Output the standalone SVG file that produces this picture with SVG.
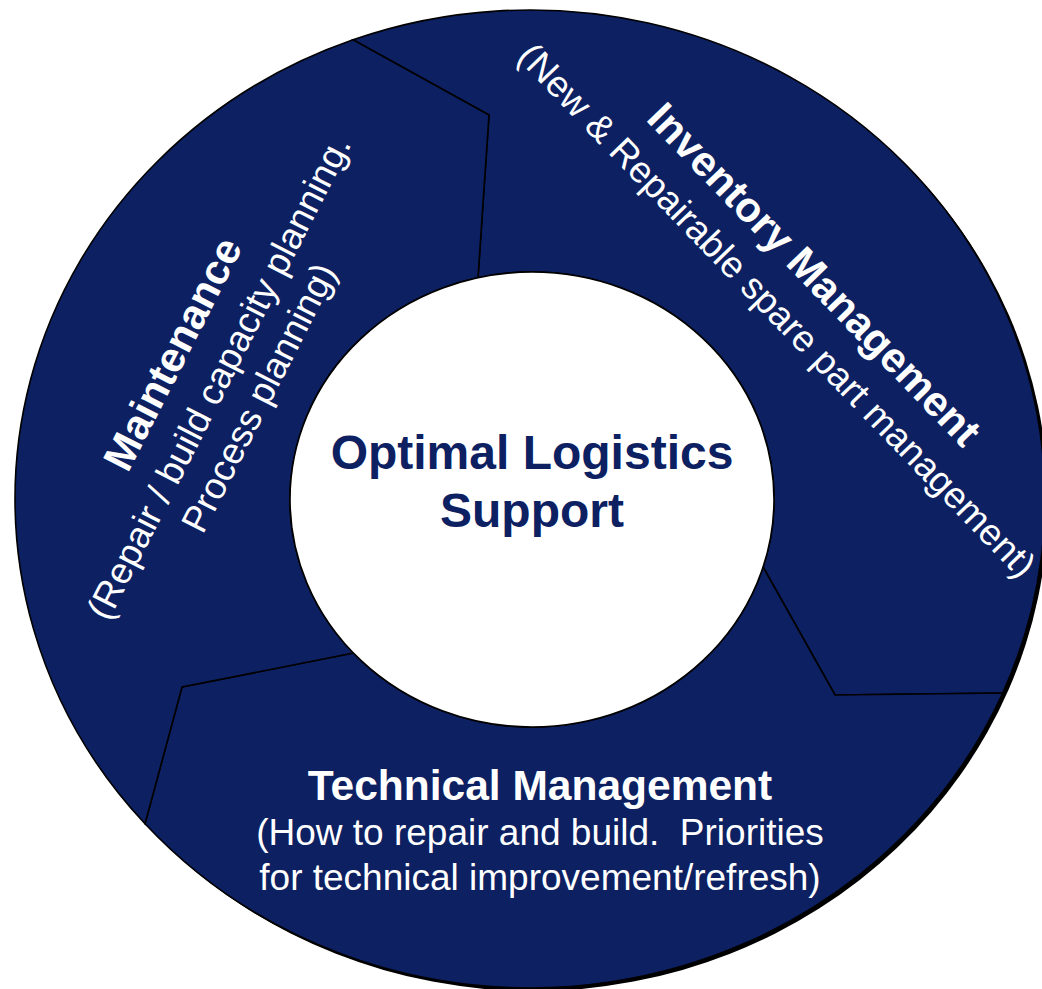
<svg xmlns="http://www.w3.org/2000/svg" width="1042" height="989" viewBox="0 0 1042 989">
  <style>
    .seg { fill: #0c2062; stroke: #000; stroke-width: 1.6; stroke-linejoin: miter; }
    .hub { fill: #fff; stroke: #000; stroke-width: 1.6; }
    .t { font-family: "Liberation Sans", Arial, sans-serif; fill: #fff; text-anchor: middle; }
    .title { font-weight: bold; font-size: 42px; }
    .sub { font-size: 37px; }
    .center { font-family: "Liberation Sans", Arial, sans-serif; font-weight: bold; font-size: 48px; fill: #0c2062; text-anchor: middle; }
  </style>
  <rect width="1042" height="989" fill="#fff"/>
  <g id="shadow">
    <ellipse cx="533" cy="502" rx="515" ry="489" fill="#000"/>
  </g>
  <g id="inventory-management">
    <path class="seg" d="M353,39.8 A515,489 0 0 1 1002.7,693 L835,695 L763.1,567 A242,227.5 0 0 0 478,277.7 L489,115 Z"/>
    <g transform="translate(768,319) rotate(46)">
      <text class="t title" x="0" y="-50">Inventory Management</text>
      <text class="t sub" x="0" y="0">(New &amp; Repairable spare part management)</text>
    </g>
  </g>
  <g id="technical-management">
    <path class="seg" d="M1002.7,693 A515,489 0 0 1 145,823.8 L182,687 L353.4,653 A242,227.5 0 0 0 763.1,567 L835,695 Z"/>
    <text class="t title" x="540" y="800" style="font-size:42.5px">Technical Management</text>
    <text class="t sub" x="540" y="845" xml:space="preserve">(How to repair and build.  Priorities</text>
    <text class="t sub" x="540" y="890">for technical improvement/refresh)</text>
  </g>
  <g id="maintenance">
    <path class="seg" d="M145,823.8 A515,489 0 0 1 353,39.8 L489,115 L478,277.7 A242,227.5 0 0 0 353.4,653 L182,687 Z"/>
    <g transform="translate(230,383) rotate(-63)">
      <text class="t title" x="0" y="-50">Maintenance</text>
      <text class="t sub" x="0" y="0">(Repair / build capacity planning.</text>
      <text class="t sub" x="0" y="45">Process planning)</text>
    </g>
  </g>
  <g id="optimal-logistics-support">
    <ellipse class="hub" cx="532" cy="499.5" rx="242" ry="227.5"/>
    <text class="center" x="532" y="469">Optimal Logistics</text>
    <text class="center" x="532" y="527">Support</text>
  </g>
</svg>
